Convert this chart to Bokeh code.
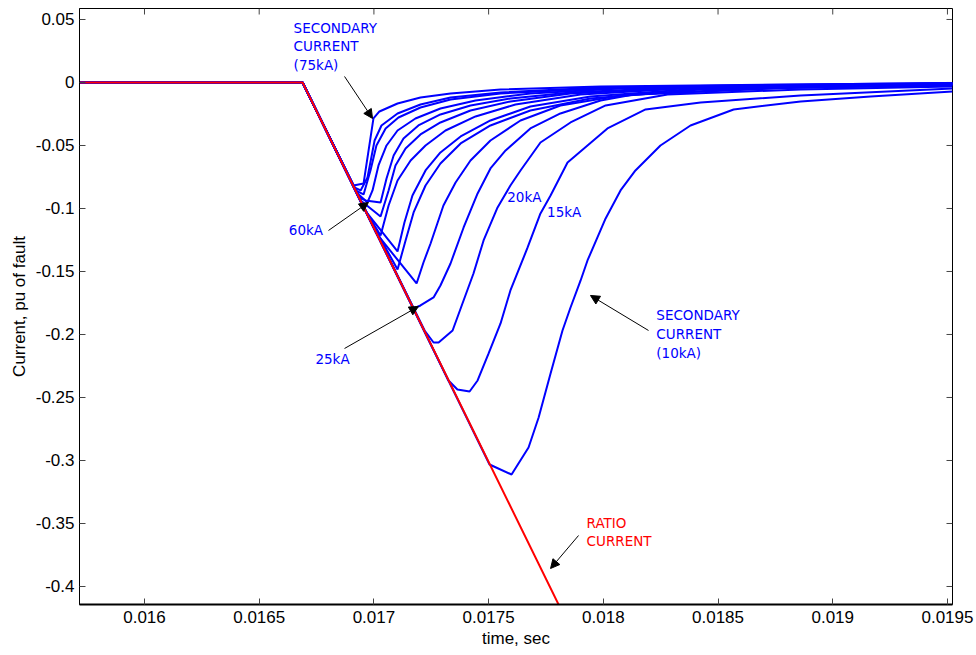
from bokeh.plotting import figure
from bokeh.models import FixedTicker, Range1d, Arrow, NormalHead, PrintfTickFormatter
from bokeh.core.properties import value
from bokeh.embed import file_html
from bokeh.resources import INLINE

# ---------------- data ----------------
x_ticks = [0.016, 0.0165, 0.017, 0.0175, 0.018, 0.0185, 0.019, 0.0195]
y_ticks = [0.05, 0.0, -0.05, -0.1, -0.15, -0.2, -0.25, -0.3, -0.35, -0.4]

# ratio (ideal) current
ratio_t = [0.015717, 0.016689, 0.0179]
ratio_y = [0.0, 0.0, -0.4496]

# common pre-fault part of every secondary current
pre_t = [0.015717, 0.016689]
pre_y = [0.0, 0.0]

t_10kA = [0.017504, 0.017600, 0.017674, 0.017718, 0.017770, 0.017822, 0.017857, 0.017901, 0.017931,
          0.018010, 0.018075, 0.018140, 0.018249, 0.018380, 0.018568, 0.018860, 0.019165, 0.019522]
y_10kA = [-0.30317, -0.31111, -0.28968, -0.26587, -0.23095, -0.19683, -0.17857, -0.15714, -0.14127,
          -0.10794, -0.08571, -0.06984, -0.05000, -0.03413, -0.02143, -0.01508, -0.01111, -0.00714]

t_15kA = [0.017325, 0.017364, 0.017417, 0.017452, 0.017500, 0.017552, 0.017595, 0.017670, 0.017726,
          0.017770, 0.017844, 0.018018, 0.018184, 0.018424, 0.018860, 0.019522]
y_15kA = [-0.23651, -0.24365, -0.24524, -0.23651, -0.21508, -0.19127, -0.16508, -0.13095, -0.10397,
          -0.08968, -0.06349, -0.03651, -0.02143, -0.01587, -0.01032, -0.00476]

t_20kA = [0.017221, 0.017260, 0.017282, 0.017343, 0.017386, 0.017434, 0.017478, 0.017539, 0.017595,
          0.017639, 0.017726, 0.017857, 0.018010, 0.018280, 0.018860, 0.019522]
y_20kA = [-0.19683, -0.20635, -0.20635, -0.19683, -0.17540, -0.15159, -0.12540, -0.09921, -0.08175,
          -0.06984, -0.04762, -0.03175, -0.01825, -0.00952, -0.00556, -0.00317]

t_25kA = [0.017173, 0.017203, 0.017260, 0.017290, 0.017334, 0.017391, 0.017452, 0.017508, 0.017574,
          0.017682, 0.017813, 0.017988, 0.018132, 0.018860, 0.019522]
y_25kA = [-0.17937, -0.17698, -0.17063, -0.16111, -0.14365, -0.11508, -0.08810, -0.06825, -0.05397,
          -0.03651, -0.02460, -0.01429, -0.00952, -0.00397, -0.00238]

t_30kA = [0.017011, 0.017186, 0.017216, 0.017247, 0.017303, 0.017356, 0.017421, 0.017508, 0.017639,
          0.017813, 0.018075, 0.018642, 0.019522]
y_30kA = [-0.11984, -0.15952, -0.14286, -0.12778, -0.09762, -0.07937, -0.06190, -0.04603, -0.03016,
          -0.01825, -0.01032, -0.00476, -0.00198]

t_35kA = [0.016990, 0.017103, 0.017138, 0.017173, 0.017225, 0.017290, 0.017378, 0.017508, 0.017682,
          0.017944, 0.018424, 0.019522]
y_35kA = [-0.11111, -0.14841, -0.12540, -0.10317, -0.08175, -0.06429, -0.04841, -0.03413, -0.02222,
          -0.01270, -0.00556, -0.00159]

t_40kA = [0.016968, 0.017103, 0.017133, 0.017168, 0.017225, 0.017290, 0.017378, 0.017508, 0.017682,
          0.017944, 0.018424, 0.019522]
y_40kA = [-0.10317, -0.13413, -0.11111, -0.08968, -0.06984, -0.05556, -0.04286, -0.03016, -0.01905,
          -0.01111, -0.00476, -0.00159]

t_45kA = [0.016950, 0.017029, 0.017064, 0.017103, 0.017160, 0.017225, 0.017312, 0.017443, 0.017617,
          0.017901, 0.018424, 0.019522]
y_45kA = [-0.09762, -0.12143, -0.09762, -0.07778, -0.06190, -0.05000, -0.03810, -0.02698, -0.01746,
          -0.00952, -0.00397, -0.00119]

t_50kA = [0.016942, 0.017029, 0.017064, 0.017094, 0.017138, 0.017203, 0.017290, 0.017421, 0.017595,
          0.017857, 0.018424, 0.019522]
y_50kA = [-0.09365, -0.10635, -0.08571, -0.06587, -0.05238, -0.04127, -0.03175, -0.02222, -0.01508,
          -0.00873, -0.00357, -0.00119]

t_55kA = [0.016937, 0.016963, 0.017029, 0.017055, 0.017086, 0.017129, 0.017194, 0.017290, 0.017421,
          0.017595, 0.017857, 0.018424, 0.019522]
y_55kA = [-0.09127, -0.09365, -0.09524, -0.07619, -0.05794, -0.04444, -0.03413, -0.02540, -0.01825,
          -0.01270, -0.00794, -0.00317, -0.00079]

t_60kA = [0.016929, 0.016972, 0.016994, 0.017020, 0.017055, 0.017103, 0.017181, 0.017290, 0.017443,
          0.017682, 0.018075, 0.018860, 0.019522]
y_60kA = [-0.08810, -0.09524, -0.08571, -0.06587, -0.05000, -0.03810, -0.02857, -0.02063, -0.01429,
          -0.00873, -0.00476, -0.00238, -0.00079]

t_65kA = [0.016920, 0.016955, 0.016985, 0.017011, 0.017051, 0.017107, 0.017203, 0.017334, 0.017552,
          0.017988, 0.018860, 0.019522]
y_65kA = [-0.08571, -0.08889, -0.06984, -0.05000, -0.03651, -0.02778, -0.01984, -0.01349, -0.00873,
          -0.00476, -0.00198, -0.00079]

t_70kA = [0.016915, 0.016942, 0.016972, 0.017003, 0.017033, 0.017103, 0.017203, 0.017334, 0.017552,
          0.017988, 0.018860, 0.019522]
y_70kA = [-0.08333, -0.08571, -0.07540, -0.04603, -0.03413, -0.02460, -0.01746, -0.01190, -0.00794,
          -0.00397, -0.00159, -0.00040]

t_75kA = [0.016911, 0.016955, 0.016998, 0.017024, 0.017103, 0.017203, 0.017334, 0.017552, 0.017988,
          0.018860, 0.019522]
y_75kA = [-0.08175, -0.08016, -0.02857, -0.02302, -0.01667, -0.01190, -0.00873, -0.00556, -0.00317,
          -0.00159, -0.00040]

secondary = [(t_10kA, y_10kA), (t_15kA, y_15kA), (t_20kA, y_20kA), (t_25kA, y_25kA),
             (t_30kA, y_30kA), (t_35kA, y_35kA), (t_40kA, y_40kA), (t_45kA, y_45kA),
             (t_50kA, y_50kA), (t_55kA, y_55kA), (t_60kA, y_60kA), (t_65kA, y_65kA),
             (t_70kA, y_70kA), (t_75kA, y_75kA)]

# annotation texts
blue_texts = ["SECONDARY", "CURRENT", "(75kA)", "60kA", "25kA", "20kA", "15kA",
              "SECONDARY", "CURRENT", "(10kA)"]
red_texts = ["RATIO", "CURRENT"]

# annotation anchor positions (data units)
blue_tx = [0.016650, 0.016650, 0.016650, 0.016629, 0.016745, 0.017581, 0.017755,
           0.018231, 0.018231, 0.018231]
blue_ty = [0.04325, 0.02873, 0.01413, -0.11746, -0.21929, -0.09103, -0.10294,
           -0.18492, -0.19984, -0.21508]
red_tx = [0.017927, 0.017927]
red_ty = [-0.34984, -0.36389]

arrow_x0 = [0.016872, 0.016802, 0.016872, 0.018197, 0.017892]
arrow_y0 = [0.00476, -0.11746, -0.21111, -0.19683, -0.35952]
arrow_x1 = [0.016994, 0.016976, 0.017194, 0.017944, 0.017770]
arrow_y1 = [-0.02857, -0.09524, -0.17778, -0.16905, -0.38571]

# ---------------- figure ----------------
X0, X1 = 0.0157167, 0.019522
Y0, Y1 = -0.41429, 0.0587
BL, BR, BT, BB = 79, 24, 8, 51
W, H = 976, 655

p = figure(width=W, height=H, output_backend="svg", toolbar_location=None,
           x_range=Range1d(X0, X1), y_range=Range1d(Y0, Y1),
           min_border_left=BL, min_border_right=BR, min_border_top=BT, min_border_bottom=BB)
p.xgrid.visible = False
p.ygrid.visible = False
p.outline_line_color = "black"
p.outline_line_width = 1
p.background_fill_color = "white"
p.border_fill_color = "white"

tick_font = "Liberation Sans"
for ax, ticks in ((p.xaxis[0], x_ticks), (p.yaxis[0], y_ticks)):
    ax.ticker = FixedTicker(ticks=ticks)
    ax.formatter = PrintfTickFormatter(format="%g")
    ax.major_tick_in = 6
    ax.major_tick_out = 0
    ax.minor_tick_line_color = None
    ax.axis_line_color = "black"
    ax.major_tick_line_color = "#444444"
    ax.major_label_text_font = tick_font
    ax.major_label_text_font_size = "17px"
    ax.major_label_text_color = "black"
    ax.axis_label_text_font = tick_font
    ax.axis_label_text_font_size = "17px"
    ax.axis_label_text_font_style = "normal"
    ax.axis_label_text_color = "black"

p.xaxis.axis_label = "time, sec"
p.yaxis.axis_label = "Current, pu of fault"
p.xaxis.major_label_standoff = 6
p.xaxis.axis_label_standoff = 3
p.yaxis.major_label_standoff = 5
p.yaxis.axis_label_standoff = 4
p.xaxis.axis_line_width = 2

# inward ticks on the top and right edges of the box (6 px long)
fw = W - BL - BR
fh = H - BT - BB
tx_len = 6 * (X1 - X0) / fw
ty_len = 6 * (Y1 - Y0) / fh
p.segment(x0=x_ticks, y0=[Y1] * len(x_ticks), x1=x_ticks, y1=[Y1 - ty_len] * len(x_ticks),
          line_color="#444444", line_width=1)
p.segment(x0=[X1] * len(y_ticks), y0=y_ticks, x1=[X1 - tx_len] * len(y_ticks), y1=y_ticks,
          line_color="#444444", line_width=1)

for ts, ys in secondary:
    p.line(pre_t + ts, pre_y + ys, line_color="#0000ff", line_width=2)

p.line(ratio_t, ratio_y, line_color="#ff0000", line_width=2)

p.text(x=blue_tx, y=blue_ty, text=blue_texts, text_font=value("DejaVu Sans"),
       text_font_size="13.5px", text_color="#0000ff", text_baseline="middle", text_align="left")
p.text(x=red_tx, y=red_ty, text=red_texts, text_font=value("DejaVu Sans"),
       text_font_size="13.5px", text_color="#ff0000", text_baseline="middle", text_align="left")

for x0, y0, x1, y1 in zip(arrow_x0, arrow_y0, arrow_x1, arrow_y1):
    p.add_layout(Arrow(end=NormalHead(size=9, fill_color="black", line_color="black", line_width=1),
                       x_start=x0, y_start=y0, x_end=x1, y_end=y1,
                       line_color="black", line_width=1))

open("out.html", "w").write(file_html(p, INLINE))
